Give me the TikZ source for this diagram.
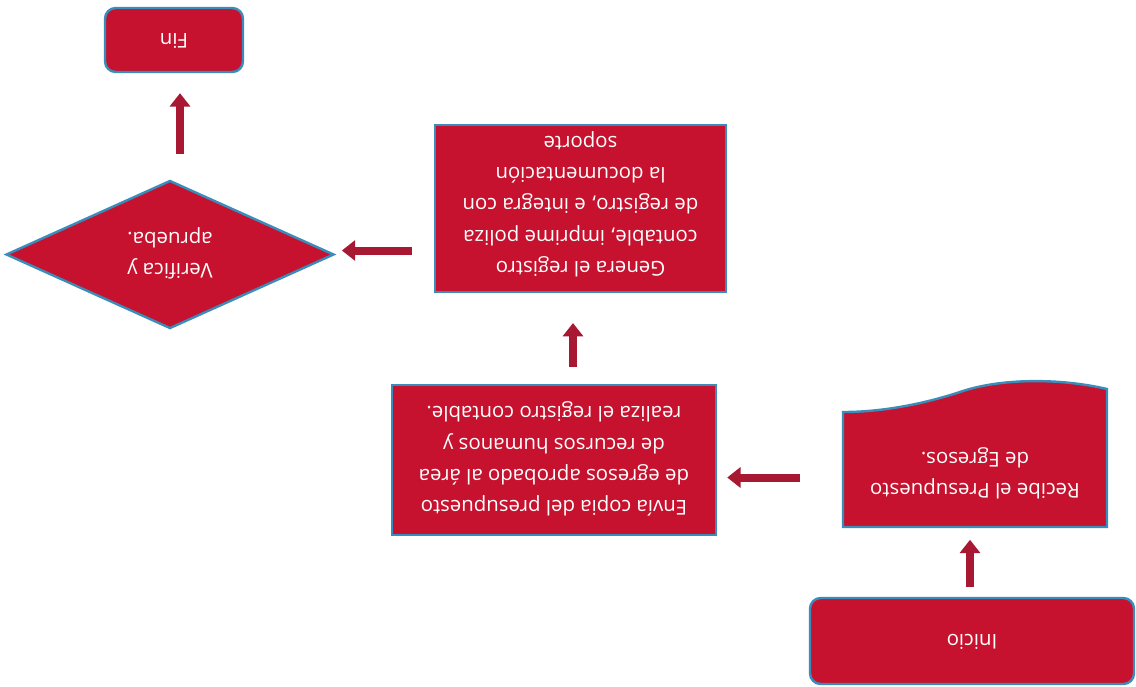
\documentclass[tikz,border=0pt]{standalone}
\usepackage{fontspec}
\setmainfont{Open Sans}
\usepackage{graphicx}
\usetikzlibrary{shapes.geometric,arrows.meta,calc}

\definecolor{boxred}{RGB}{198,18,46}
\definecolor{arrowred}{RGB}{168,24,50}
\definecolor{edgeblue}{RGB}{58,140,186}

% upside-down multi-line label
\newcommand{\fliptext}[1]{\rotatebox[origin=c]{180}{\begin{tabular}{@{}c@{}}#1\end{tabular}}}

\tikzset{
  every node/.style={font=\fontsize{15.3}{23.5}\selectfont, text=white, inner sep=0pt},
  blockbox/.style={draw=edgeblue, line width=1.8pt, fill=boxred, rectangle},
  termbox/.style={blockbox, rounded corners=8pt},
  choicebox/.style={draw=edgeblue, line width=1.8pt, fill=boxred, diamond},
  flow/.style={draw=arrowred, line width=6pt, -{Triangle[width=15pt,length=10pt]}},
}

\begin{document}
\begin{tikzpicture}[x=0.75pt,y=-0.75pt]
\useasboundingbox (0,0) rectangle (1136,686);

% start and end terminals
\node[termbox, minimum width=243pt, minimum height=64.5pt] (inicio) at (972,641) {\fliptext{Inicio}};
\node[termbox, minimum width=103.5pt, minimum height=48pt] (fin) at (174,40) {\fliptext{Fin}};

% document shape with wavy edge
\draw[draw=edgeblue, line width=1.8pt, fill=boxred]
  (843,527) -- (1107,527) -- (1107,389)
  .. controls (1060,378) and (1000,378) .. (960,392)
  .. controls (920,405) and (880,412) .. (843,412) -- cycle;
\node[minimum width=198pt, minimum height=104pt] (recibe) at (975,457.5) {};
\node at (975,474) {\fliptext{Recibe el Presupuesto\\de Egresos.}};

% process boxes
\node[blockbox, minimum width=243pt, minimum height=112.5pt] (envia) at (554,460)
  {\fliptext{Envía copia del presupuesto\\de egresos aprobado al área\\de recursos humanos y\\realiza el registro contable.}};
\node[blockbox, minimum width=218pt, minimum height=125pt] (genera) at (580.5,208.5) {};
\node at (580.5,205) {\fliptext{Genera el registro\\contable, imprime poliza\\de registro, e integra con\\la documentación\\soporte}};

% decision
\node[choicebox, minimum width=246pt, minimum height=109pt] (verif) at (170,254.5)
  {\fliptext{Verifica y\\aprueba.}};

% connectors
\draw[flow, shorten <=7.5pt, shorten >=9.5pt] ([xshift=-1.5pt]inicio.north) -- ([xshift=-1.5pt]inicio.north |- recibe.south);
\draw[flow, shorten <=32pt, shorten >=7.5pt] ([yshift=-15pt]recibe.west) -- ([yshift=-15pt]recibe.west -| envia.east);
\draw[flow, shorten <=12.75pt, shorten >=22.5pt] ([xshift=14.25pt]envia.north) -- ([xshift=14.25pt]envia.north |- genera.south);
\draw[flow, shorten <=16.5pt, shorten >=5pt] ([yshift=3pt]verif.east -| genera.west) -- ([yshift=3pt]verif.east);
\draw[flow, shorten <=18.75pt, shorten >=15pt] ([xshift=7.5pt]verif.north) -- ([xshift=7.5pt]verif.north |- fin.south);
\end{tikzpicture}
\end{document}
